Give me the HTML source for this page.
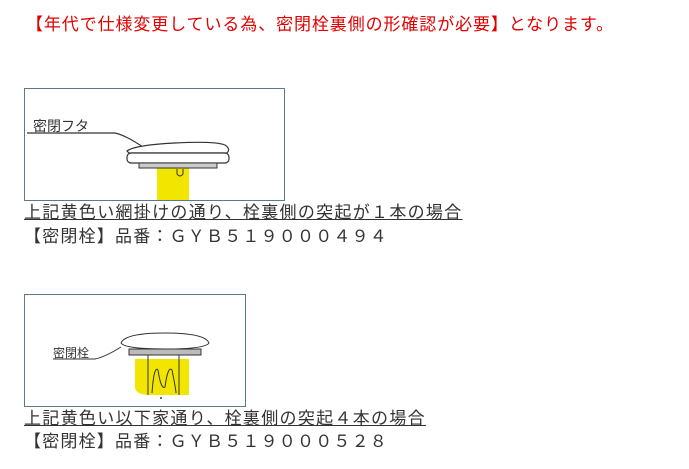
<!DOCTYPE html>
<html><head><meta charset="utf-8"><style>
body{margin:0;width:689px;height:469px;background:#fff;position:relative;overflow:hidden;font-family:"Liberation Sans","Noto Sans CJK JP",sans-serif;color:#333}
.t{position:absolute;white-space:nowrap;font-size:17px;line-height:20px}
.u{text-decoration:underline}
.box{position:absolute;border:1px solid #5a7a8a;background:#fff}
</style></head><body>
<div class="t" style="left:26px;top:15px;color:#e00000;letter-spacing:0.9px">【年代で仕様変更している為、密閉栓裏側の形確認が必要】となります。</div>

<div class="box" style="left:24px;top:88px;width:259px;height:111px">
<svg width="259" height="111">
<rect x="132" y="72" width="32" height="39" fill="#f2e600"/>
<text x="8" y="42" font-size="14" fill="#333" font-family="Noto Sans CJK JP">密閉フタ</text>
<path d="M2 44 H90 Q100 46 118 58" stroke="#333" fill="none" stroke-width="1.2"/>
<path d="M102 62 Q110 56 150 54 Q190 52 200 56 Q206 60 202 64 H104 Z" fill="#fff" stroke="#333" stroke-width="1.2"/>
<rect x="102" y="64" width="102" height="10" rx="4" fill="#fff" stroke="#333" stroke-width="1.2"/>
<rect x="114" y="74" width="78" height="5" fill="#ccc" stroke="#333"/>
<path d="M152 80 v5 q3 4 6 0 v-5" stroke="#333" fill="none"/>
</svg></div>
<div class="t u" style="left:24px;top:203px;letter-spacing:1.3px">上記黄色い網掛けの通り、栓裏側の突起が１本の場合</div>
<div class="t" style="left:24px;top:227px;letter-spacing:1.2px">【密閉栓】品番：ＧＹＢ５１９０００４９４</div>

<div class="box" style="left:24px;top:294px;width:220px;height:111px">
<svg width="220" height="111">
<path d="M110 64 H164 V100 H126 Q110 100 110 92 Z" fill="#f2e600"/>
<text x="28" y="62" font-size="12" fill="#333" font-family="Noto Sans CJK JP">密閉栓</text>
<path d="M28 64 H70 Q80 62 96 52" stroke="#333" fill="none"/>
<path d="M96 48 Q100 38 140 38 Q180 38 184 48 Q180 54 140 54 Q100 54 96 48 Z" fill="#fff" stroke="#333"/>
<rect x="104" y="54" width="72" height="6" fill="#bbb" stroke="#333"/>
<path d="M123 60 V100 M154 60 V100 M127 98 Q129 70 133 75 Q136 95 140 92 Q143 70 147 75 Q151 95 151 98" stroke="#333" fill="none"/>
<circle cx="136" cy="103" r="1" fill="#333"/>
</svg></div>
<div class="t u" style="left:24px;top:409px;letter-spacing:1.3px">上記黄色い以下家通り、栓裏側の突起４本の場合</div>
<div class="t" style="left:24px;top:432px;letter-spacing:1.2px">【密閉栓】品番：ＧＹＢ５１９０００５２８</div>
</body></html>
